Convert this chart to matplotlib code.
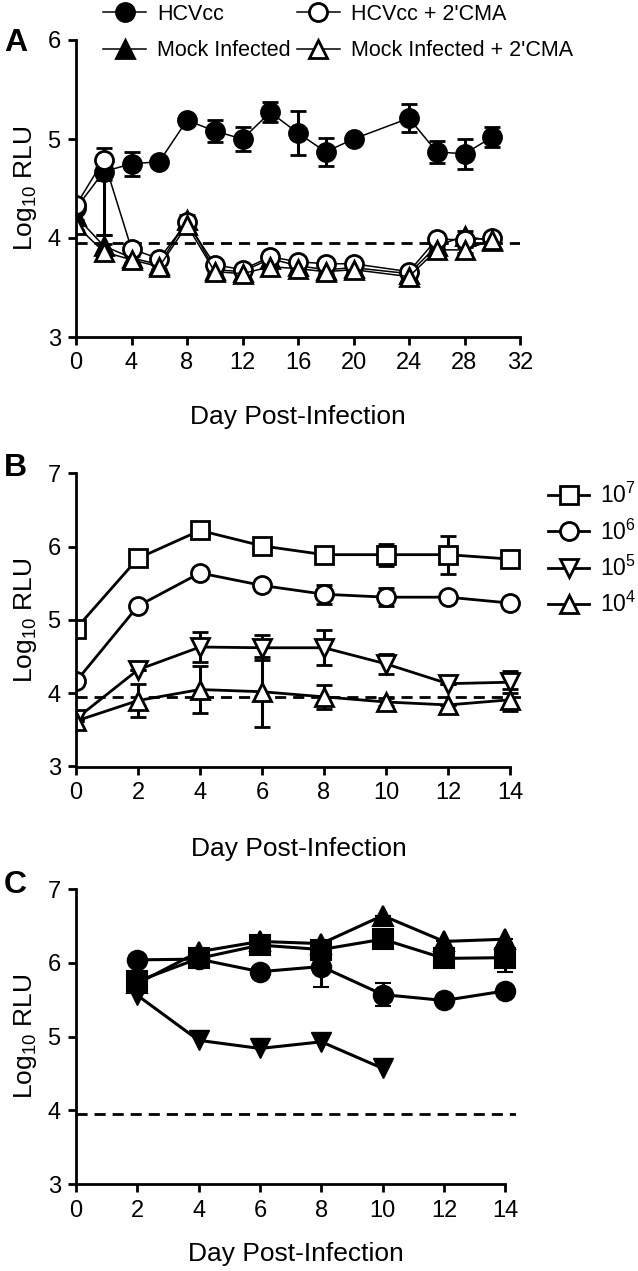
import matplotlib
matplotlib.use("Agg")
import matplotlib.pyplot as plt
import numpy as np

plt.rcParams['font.family'] = ['Liberation Sans', 'DejaVu Sans']
plt.rcParams['mathtext.fontset'] = 'custom'
plt.rcParams['mathtext.rm'] = 'Liberation Sans'
plt.rcParams['mathtext.it'] = 'Liberation Sans:italic'
plt.rcParams['mathtext.bf'] = 'Liberation Sans:bold'

# ---------------- Panel A data ----------------
days_a = [0, 2, 4, 6, 8, 10, 12, 14, 16, 18, 20, 24, 26, 28, 30]
hcv = [4.30, 4.67, 4.75, 4.77, 5.19, 5.08, 5.00, 5.27, 5.06, 4.87, 5.00, 5.21, 4.87, 4.85, 5.02]
hcv_err = [0.05, 0.08, 0.12, 0.0, 0.0, 0.11, 0.12, 0.10, 0.22, 0.14, 0.0, 0.14, 0.11, 0.15, 0.10]
mock = [4.22, 3.92, 3.80, 3.73, 4.18, 3.68, 3.66, 3.79, 3.72, 3.68, 3.70, 3.64, 3.92, 4.02, 3.97]
mock_err = [0.05, 0.11, 0.05, 0.04, 0.05, 0.03, 0.03, 0.05, 0.03, 0.03, 0.03, 0.03, 0.03, 0.05, 0.06]
hcv_cma = [4.33, 4.79, 3.89, 3.79, 4.16, 3.73, 3.68, 3.81, 3.76, 3.74, 3.74, 3.66, 3.99, 3.98, 4.00]
hcv_cma_err_lo = [0.05, 0.76, 0.03, 0.03, 0.03, 0.03, 0.03, 0.03, 0.03, 0.03, 0.03, 0.03, 0.03, 0.03, 0.05]
hcv_cma_err_hi = [0.05, 0.12, 0.03, 0.03, 0.03, 0.03, 0.03, 0.03, 0.03, 0.03, 0.03, 0.03, 0.03, 0.03, 0.05]
mock_cma = [4.13, 3.86, 3.78, 3.71, 4.13, 3.66, 3.64, 3.71, 3.69, 3.66, 3.68, 3.61, 3.88, 3.88, 3.98]
mock_cma_err = [0.05, 0.08, 0.04, 0.04, 0.04, 0.03, 0.03, 0.03, 0.03, 0.03, 0.03, 0.03, 0.03, 0.03, 0.03]
labels_a = ["HCVcc", "Mock Infected", "HCVcc + 2'CMA", "Mock Infected + 2'CMA"]

# ---------------- Panel B data ----------------
days_b = [0, 2, 4, 6, 8, 10, 12, 14]
b_e7 = [4.88, 5.84, 6.22, 6.01, 5.89, 5.89, 5.89, 5.83]
b_e7_err = [0.0, 0.0, 0.10, 0.05, 0.03, 0.15, 0.26, 0.0]
b_e6 = [4.16, 5.19, 5.64, 5.47, 5.35, 5.31, 5.31, 5.23]
b_e6_err = [0.0, 0.0, 0.0, 0.0, 0.13, 0.12, 0.0, 0.07]
b_e5 = [3.65, 4.32, 4.63, 4.62, 4.62, 4.40, 4.13, 4.15]
b_e5_err = [0.0, 0.0, 0.20, 0.17, 0.24, 0.14, 0.0, 0.15]
b_e4 = [3.62, 3.90, 4.05, 4.02, 3.95, 3.88, 3.84, 3.91]
b_e4_err = [0.0, 0.22, 0.32, 0.48, 0.16, 0.05, 0.0, 0.15]
labels_b = ["$10^7$", "$10^6$", "$10^5$", "$10^4$"]

# ---------------- Panel C data ----------------
days_c = [2, 4, 6, 8, 10, 12, 14]
c_circ = [6.04, 6.05, 5.88, 5.95, 5.57, 5.49, 5.62]
c_circ_err = [0.0, 0.0, 0.0, 0.28, 0.16, 0.0, 0.0]
c_sq = [5.75, 6.06, 6.24, 6.18, 6.32, 6.06, 6.07]
c_sq_err = [0.0, 0.0, 0.0, 0.05, 0.0, 0.0, 0.20]
c_tri = [5.72, 6.15, 6.29, 6.26, 6.64, 6.29, 6.32]
c_tri_err = [0.0, 0.0, 0.0, 0.0, 0.0, 0.0, 0.0]
days_c_down = [2, 4, 6, 8, 10]
c_down = [5.56, 4.95, 4.84, 4.93, 4.57]

threshold = 3.95

W, H = 638, 1271
fig = plt.figure(figsize=(W / 100, H / 100), dpi=100)

def px_axes(left, top, right, bottom):
    return fig.add_axes([left / W, 1 - bottom / H, (right - left) / W, (bottom - top) / H])

def style(ax, labelpad):
    for s in ['top', 'right']:
        ax.spines[s].set_visible(False)
    for s in ['left', 'bottom']:
        ax.spines[s].set_linewidth(2.0)
    ax.tick_params(width=2.0, length=6, labelsize=17, direction='out', pad=5)
    ax.set_xlabel("Day Post-Infection", fontsize=19, labelpad=labelpad)
    ax.set_ylabel("Log$_{10}$ RLU", fontsize=19, labelpad=6)

# ---------- A ----------
axA = px_axes(76, 40, 520, 337)
ebA = dict(capsize=6, elinewidth=2.2, capthick=2.2, ecolor='black', color='black',
           lw=1.1, ms=13, mew=2.0)
hA = []
hA.append(axA.errorbar(days_a, hcv, yerr=hcv_err, marker='o', mfc='black', mec='black', **ebA)[0])
hA.append(axA.errorbar(days_a, mock, yerr=mock_err, marker='^', mfc='black', mec='black', **ebA)[0])
hA.append(axA.errorbar(days_a, hcv_cma, yerr=[hcv_cma_err_lo, hcv_cma_err_hi], marker='o', mfc='white', mec='black', **ebA)[0])
hA.append(axA.errorbar(days_a, mock_cma, yerr=mock_cma_err, marker='^', mfc='white', mec='black', **ebA)[0])
axA.axhline(threshold, color='black', lw=2.0, ls=(0, (4, 2.5)), zorder=1)
axA.set_xlim(0, 32)
axA.set_ylim(3, 6)
axA.set_xticks(range(0, 33, 4))
axA.set_yticks([3, 4, 5, 6])
style(axA, 22)
fig.legend(hA, labels_a, loc='upper left', bbox_to_anchor=(103 / W, 1 - 4 / H), ncol=2, frameon=False,
           fontsize=15.5, handlelength=2.0, handletextpad=0.5, columnspacing=0.3,
           labelspacing=0.72, borderaxespad=0, borderpad=0)
fig.text(4 / W, 1 - 51 / H, "A", fontsize=23, fontweight='bold')

# ---------- B ----------
axB = px_axes(76, 473.3, 76 + 14.35 * 31, 766.5)
ebB = dict(capsize=6, elinewidth=2.2, capthick=2.2, ecolor='black', color='black',
           lw=2.0, ms=13, mew=2.0, mfc='white', mec='black')
hB = []
hB.append(axB.errorbar(days_b, b_e7, yerr=b_e7_err, marker='s', **ebB)[0])
hB.append(axB.errorbar(days_b, b_e6, yerr=b_e6_err, marker='o', **ebB)[0])
hB.append(axB.errorbar(days_b, b_e5, yerr=b_e5_err, marker='v', **ebB)[0])
hB.append(axB.errorbar(days_b, b_e4, yerr=b_e4_err, marker='^', **ebB)[0])
axB.axhline(threshold, color='black', lw=2.0, ls=(0, (4, 2.5)), zorder=1)
axB.set_xlim(0, 14.35)
axB.set_ylim(3, 7)
axB.spines['bottom'].set_bounds(0, 14)
axB.set_xticks(range(0, 15, 2))
axB.set_yticks([3, 4, 5, 6, 7])
style(axB, 24)
axB.legend(hB, labels_b, loc='upper left', bbox_to_anchor=(548 / W, 1 - 483 / H), bbox_transform=fig.transFigure,
           frameon=False, fontsize=16.5, handlelength=1.8, handletextpad=0.45, labelspacing=0.48,
           borderaxespad=0, borderpad=0)
fig.text(4 / W, 1 - 476 / H, "B", fontsize=23, fontweight='bold')

# ---------- C ----------
axC = px_axes(76, 889, 76 + 14.35 * 30.67, 1184.3)
ebC = dict(capsize=6, elinewidth=2.2, capthick=2.2, ecolor='black', color='black',
           lw=2.2, ms=14, mew=1.5, mfc='black', mec='black')
axC.errorbar(days_c, c_circ, yerr=c_circ_err, marker='o', **ebC)
axC.errorbar(days_c, c_sq, yerr=c_sq_err, marker='s', **ebC)
axC.errorbar(days_c, c_tri, yerr=c_tri_err, marker='^', **ebC)
axC.plot(days_c_down, c_down, marker='v', color='black', lw=2.2, ms=14, mfc='black', mec='black')
axC.axhline(threshold, color='black', lw=2.0, ls=(0, (4, 2.5)), zorder=1)
axC.set_xlim(0, 14.35)
axC.set_ylim(3, 7)
axC.spines['bottom'].set_bounds(0, 14)
axC.set_xticks(range(0, 15, 2))
axC.set_yticks([3, 4, 5, 6, 7])
style(axC, 15)
fig.text(4 / W, 1 - 893 / H, "C", fontsize=23, fontweight='bold')

fig.savefig("out.png", dpi=100)
